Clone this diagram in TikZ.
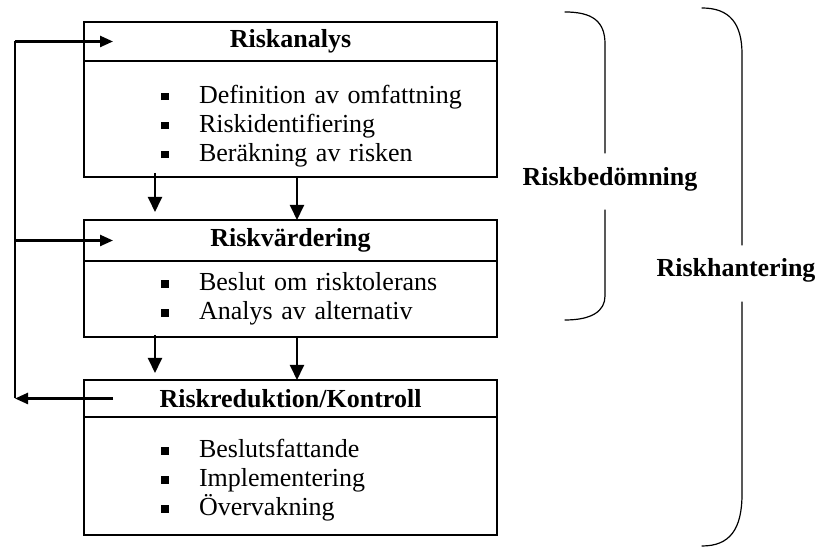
\documentclass[tikz,border=0pt]{standalone}
\usepackage{fontspec}
\setmainfont{Liberation Serif}
\usetikzlibrary{positioning,arrows.meta}

\newcommand{\riskitem}[1]{\hspace*{38.5pt}\makebox[19pt][l]{\rule[1.5pt]{3.8pt}{3.8pt}}#1}

\begin{document}
\begin{tikzpicture}[x=0.5pt,y=0.5pt]
  \tikzset{
    riskhead/.style={
      draw=black,
      line width=1.3pt,
      outer sep=0pt,
      inner sep=0pt,
      minimum width=206.5pt,
      anchor=north west,
      font=\fontsize{13}{15}\selectfont\bfseries
    },
    riskbody/.style={
      draw=black,
      line width=1.3pt,
      outer sep=0pt,
      inner xsep=0pt,
      inner ysep=0pt,
      text width=206.5pt,
      align=left,
      font=\fontsize{13}{14.5}\selectfont
    },
    riskarrow/.style={-{Triangle[length=7.5pt,width=7pt]},line width=1pt},
    riskfeed/.style={-{Triangle[length=6.5pt,width=5.5pt]},line width=1.2pt},
    riskbrace/.style={line width=0.6pt,line cap=round},
    risklabel/.style={font=\fontsize{13}{15}\selectfont\bfseries}
  }
  \useasboundingbox (0,0) rectangle (818,549);

  % ------------------------------------------------------------------
  % The three process boxes
  % ------------------------------------------------------------------
  \node[riskhead,minimum height=19.5pt] (analys) at (84,527) {Riskanalys};
  \node[riskbody,minimum height=58pt,below=0pt of analys] (analysbody)
    {\riskitem{\rule{0pt}{16pt}Definition av omfattning}\\
     \riskitem{Riskidentifiering}\\
     \riskitem{Beräkning av risken}};

  \node[riskhead,minimum height=20.5pt] (vardering) at (84,329) {Riskvärdering};
  \node[riskbody,minimum height=38pt,below=0pt of vardering] (varderingbody)
    {\riskitem{Beslut om risktolerans}\\
     \riskitem{Analys av alternativ}};

  \node[riskhead,minimum height=18.5pt] (kontroll) at (84,169) {Riskreduktion/Kontroll};
  \node[riskbody,minimum height=59pt,below=0pt of kontroll] (kontrollbody)
    {\riskitem{\rule{0pt}{13.5pt}Beslutsfattande}\\
     \riskitem{Implementering}\\
     \riskitem{Övervakning}};

  % downward flow between the boxes
  \draw[riskarrow,shorten >=4pt] ([xshift=35.5pt,yshift=2pt]analysbody.south west)
    -- ([xshift=35.5pt]vardering.north west);
  \draw[riskarrow] ([xshift=106.5pt]analysbody.south west)
    -- ([xshift=106.5pt]vardering.north west);
  \draw[riskarrow,shorten >=3.5pt] ([xshift=35.5pt,yshift=1pt]varderingbody.south west)
    -- ([xshift=35.5pt]kontroll.north west);
  \draw[riskarrow] ([xshift=106.5pt]varderingbody.south west)
    -- ([xshift=106.5pt]kontroll.north west);

  % ------------------------------------------------------------------
  % Feedback loop on the left
  % ------------------------------------------------------------------
  \coordinate (fbline) at (15,0);
  \draw[riskfeed] ([xshift=14.5pt]kontroll.west) -- (kontroll.west -| fbline);
  \draw[line width=0.6pt] (kontroll.west -| fbline) -- (analys.west -| fbline);
  \draw[riskfeed] (analys.west -| fbline) -- ([xshift=14.5pt]analys.west);
  \draw[riskfeed] (vardering.west -| fbline) -- ([xshift=14.5pt]vardering.west);

  % ------------------------------------------------------------------
  % Braces on the right
  % ------------------------------------------------------------------
  \draw[riskbrace] (565,537) .. controls (592,537) and (605,528) .. (605,505) -- (605,396);
  \draw[riskbrace] (605,339) -- (605,253) .. controls (605,238) and (592,229) .. (565,229);
  \node[risklabel] (bedomning) at (610,370) {Riskbedömning};

  \draw[riskbrace] (702,541) .. controls (730,541) and (742,525) .. (742,495) -- (742,304);
  \draw[riskbrace] (742,247) -- (742,55) .. controls (742,20) and (730,3) .. (702,3);
  \node[risklabel] (hantering) at (736,279) {Riskhantering};
\end{tikzpicture}
\end{document}
